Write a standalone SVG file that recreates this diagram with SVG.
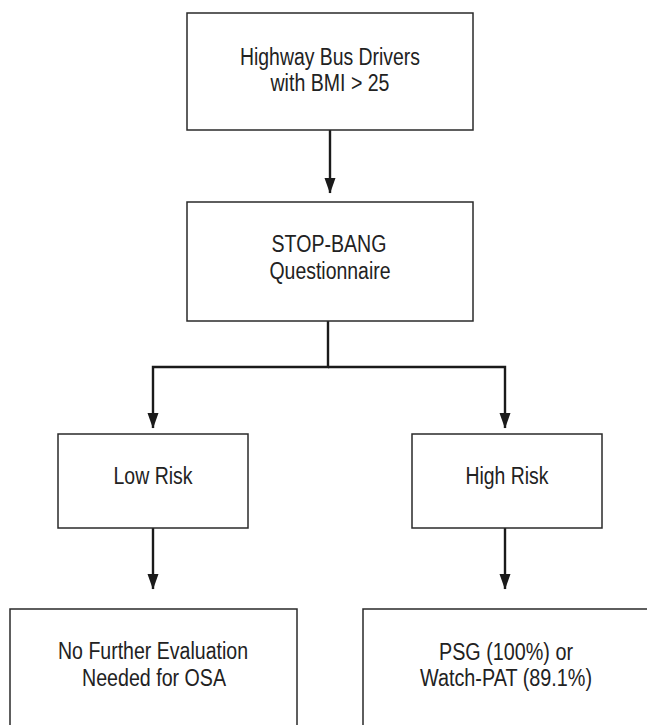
<svg xmlns="http://www.w3.org/2000/svg" width="647" height="725" viewBox="0 0 647 725">
  <defs>
    <style>
      .box { fill: #ffffff; stroke: #2a2a2a; stroke-width: 1.5; }
      .conn { fill: none; stroke: #1a1a1a; stroke-width: 2.4; }
      .lbl { font-family: "Liberation Sans", Arial, Helvetica, sans-serif; font-size: 23.5px; fill: #222222; text-anchor: middle; }
    </style>
    <marker id="arrowDown" markerUnits="userSpaceOnUse" markerWidth="16" markerHeight="12" refX="15" refY="6" orient="auto" viewBox="0 0 16 12">
      <path d="M0,0.5 L15.5,6 L0,11.5 Z" fill="#1a1a1a"/>
    </marker>
  </defs>
  <rect width="647" height="725" fill="#ffffff"/>

  <g id="connectors">
    <path class="conn" d="M330,130 V193" marker-end="url(#arrowDown)"/>
    <path class="conn" d="M328,321 V367 H153 V428" marker-end="url(#arrowDown)"/>
    <path class="conn" d="M328,367 H505 V428" marker-end="url(#arrowDown)"/>
    <path class="conn" d="M153,528 V589" marker-end="url(#arrowDown)"/>
    <path class="conn" d="M505,528 V589" marker-end="url(#arrowDown)"/>
  </g>

  <g id="node-drivers">
    <rect class="box" x="187" y="13" width="286" height="117"/>
    <text class="lbl" x="330" y="65" textLength="180" lengthAdjust="spacingAndGlyphs">Highway Bus Drivers</text>
    <text class="lbl" x="330" y="91" textLength="119" lengthAdjust="spacingAndGlyphs">with BMI &gt; 25</text>
  </g>

  <g id="node-stopbang">
    <rect class="box" x="187" y="202" width="286" height="119"/>
    <text class="lbl" x="329" y="252" textLength="115" lengthAdjust="spacingAndGlyphs">STOP-BANG</text>
    <text class="lbl" x="330" y="279" textLength="121" lengthAdjust="spacingAndGlyphs">Questionnaire</text>
  </g>

  <g id="node-low">
    <rect class="box" x="58" y="434" width="190" height="94"/>
    <text class="lbl" x="153" y="484" textLength="79" lengthAdjust="spacingAndGlyphs">Low Risk</text>
  </g>

  <g id="node-high">
    <rect class="box" x="412" y="434" width="190" height="94"/>
    <text class="lbl" x="507" y="484" textLength="83" lengthAdjust="spacingAndGlyphs">High Risk</text>
  </g>

  <g id="node-nofurther">
    <rect class="box" x="10" y="609" width="287" height="140"/>
    <text class="lbl" x="153" y="659" textLength="190" lengthAdjust="spacingAndGlyphs">No Further Evaluation</text>
    <text class="lbl" x="154" y="686" textLength="144" lengthAdjust="spacingAndGlyphs">Needed for OSA</text>
  </g>

  <g id="node-psg">
    <rect class="box" x="363" y="609" width="300" height="140"/>
    <text class="lbl" x="506" y="660" textLength="134" lengthAdjust="spacingAndGlyphs">PSG (100%) or</text>
    <text class="lbl" x="506" y="686" textLength="172" lengthAdjust="spacingAndGlyphs">Watch-PAT (89.1%)</text>
  </g>
</svg>
